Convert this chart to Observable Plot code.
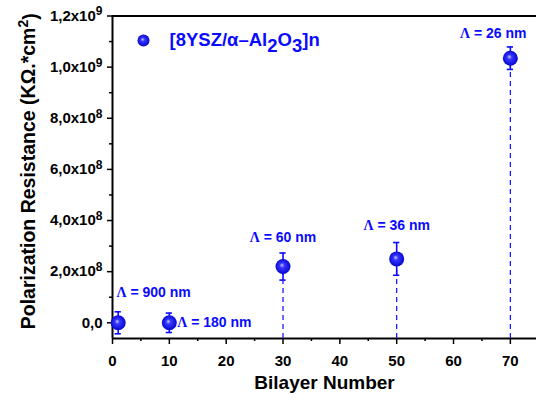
<!DOCTYPE html>
<html><head><meta charset="utf-8">
<script src="https://cdn.jsdelivr.net/npm/d3@7"></script>
<script src="https://cdn.jsdelivr.net/npm/@observablehq/plot@0.6"></script>
<style>body{margin:0;background:#fff} svg{display:block}</style>
</head><body><div id="chart"></div>
<script>
// ---- data ----
const bilayers = [1, 10, 30, 50, 70];
const resistance = [0, 0, 2.2e8, 2.5e8, 1.035e9];
const errors = [4.3e7, 3.8e7, 5.3e7, 6.4e7, 4.4e7];
const periods = ["Λ = 900 nm", "Λ = 180 nm", "Λ = 60 nm", "Λ = 36 nm", "Λ = 26 nm"];
const labelX = [0.7, 11.4, 30, 50, 67];
const labelY = [1.19e8, 0, 3.35e8, 3.81e8, 1.132e9];
const xTicks = [0, 10, 20, 30, 40, 50, 60, 70];
const xMinor = [5, 15, 25, 35, 45, 55, 65];
const yTicks = [0, 2e8, 4e8, 6e8, 8e8, 1e9, 1.2e9];
const yMinor = [1e8, 3e8, 5e8, 7e8, 9e8, 1.1e9];
const seriesName = "[8YSZ/α–Al_2O_3]n";
const xTitle = "Bilayer Number";
const yTitle = "Polarization Resistance (KΩ.*cm^2)";

const points = bilayers.map((x, i) => ({x, y: resistance[i], e: errors[i]}));
const labels = periods.map((t, i) => ({t, x: labelX[i], y: labelY[i], i}));
const yMin = -0.0614e9, yMax = 1.2e9, xMax = 74.6;
const blue = "#0a0aff";
const FONT = "'Liberation Sans', Arial, sans-serif";

function fmt(v) {
  if (v === 0) return "0,0";
  const e = Math.floor(Math.log10(v) + 1e-9);
  const m = (v / Math.pow(10, e)).toFixed(1).replace(".", ",");
  return m + "x10^" + e;
}

const plot = Plot.plot({
  width: 536, height: 400,
  marginLeft: 112, marginRight: 0, marginTop: 15.5, marginBottom: 62,
  style: {fontFamily: FONT, fontWeight: "bold", background: "white", color: "black"},
  x: {domain: [0, xMax]},
  y: {domain: [yMin, yMax]},
  marks: [
    Plot.axisX({ticks: xTicks, tickSize: 6, tickPadding: 11, fontSize: 15, strokeWidth: 1.5, label: null, tickFormat: d => String(d)}),
    Plot.axisX({ticks: xMinor, tickSize: 3, text: null, label: null, strokeWidth: 1.5}),
    Plot.axisY({ticks: yTicks, tickSize: 5, tickPadding: 5, fontSize: 15, strokeWidth: 1.5, label: null, tickFormat: fmt}),
    Plot.axisY({ticks: yMinor, tickSize: 3, text: null, label: null, strokeWidth: 1.5}),
    Plot.ruleX([0], {strokeWidth: 2}),
    Plot.ruleY([yMin], {strokeWidth: 2}),
    Plot.ruleY([yMax], {strokeWidth: 2}),
    Plot.ruleX(points.filter(d => d.x >= 30), {x: "x", y1: yMin, y2: "y", stroke: blue, strokeWidth: 1.2, strokeDasharray: "5,4"}),
    Plot.ruleX(points, {x: "x", y1: d => d.y - d.e, y2: d => d.y + d.e, stroke: blue, strokeWidth: 1.6}),
    Plot.ruleY(points, {y: d => d.y + d.e, x1: d => d.x - 0.55, x2: d => d.x + 0.55, stroke: blue, strokeWidth: 1.6}),
    Plot.ruleY(points, {y: d => d.y - d.e, x1: d => d.x - 0.55, x2: d => d.x + 0.55, stroke: blue, strokeWidth: 1.6}),
    Plot.dot(points, {x: "x", y: "y", r: 7.5, fill: blue}),
    Plot.text(labels.filter(d => d.i < 2), {x: "x", y: "y", text: "t", textAnchor: "start", fill: blue, fontSize: 14}),
    Plot.text(labels.filter(d => d.i >= 2), {x: "x", y: "y", text: "t", textAnchor: "middle", fill: blue, fontSize: 14}),
    // legend
    Plot.dot([0], {frameAnchor: "top-left", dx: 31, dy: 24.5, r: 6, fill: blue}),
    Plot.text([seriesName], {frameAnchor: "top-left", dx: 57, dy: 24.5, text: d => d, textAnchor: "start", lineAnchor: "middle", fill: blue, fontSize: 18.5}),
    // titles
    Plot.text([xTitle], {frameAnchor: "bottom", dy: 50, text: d => d, fontSize: 19, fill: "black"}),
    Plot.text([yTitle], {frameAnchor: "left", dx: -84, dy: -6, rotate: -90, textAnchor: "middle", text: d => d, fontSize: 19.5, fill: "black"})
  ]
});

document.getElementById("chart").appendChild(plot);
const svg = d3.select(plot);

// gradient for spheres
const defs = svg.insert("defs", ":first-child");
const gr = defs.append("radialGradient").attr("id", "sph")
  .attr("cx", "50%").attr("cy", "50%").attr("r", "55%").attr("fx", "42%").attr("fy", "40%");
gr.append("stop").attr("offset", "0%").attr("stop-color", "#c8c8ff");
gr.append("stop").attr("offset", "30%").attr("stop-color", "#3535ff");
gr.append("stop").attr("offset", "100%").attr("stop-color", "#0000c8");
svg.selectAll('g[aria-label="dot"]').attr("fill", "url(#sph)");
svg.selectAll('g[aria-label="dot"] circle').attr("fill", "url(#sph)");

function supify(node, supSize, dy) {
  const t = node.textContent;
  const m = t.match(/^(.*)\^(\d)(.*)$/);
  if (!m) return;
  const s = d3.select(node);
  s.text(null);
  s.append("tspan").text(m[1]);
  s.append("tspan").attr("dy", dy).attr("font-size", supSize).text(m[2]);
  if (m[3]) s.append("tspan").attr("dy", "0.45em").text(m[3]);
}

svg.selectAll("text").each(function () {
  const t = this.textContent;
  if (t.includes("_")) {
    // subscripts
    const parts = t.split(/_(\d)/);
    const s = d3.select(this);
    s.text(null);
    parts.forEach((p, i) => {
      if (i % 2 === 1) s.append("tspan").attr("dy", "0.3em").text(p);
      else if (p) s.append("tspan").attr("dy", i ? "-0.3em" : null).text(p);
    });
  } else if (t.includes("^")) {
    supify(this, t.length > 12 ? 14 : 12, t.length > 12 ? "-0.45em" : "-0.45em");
  } else if (t.startsWith("Λ")) {
    const s = d3.select(this);
    s.text(null);
    s.append("tspan").attr("font-family", "'Liberation Serif', serif").text(t[0]);
    s.append("tspan").text(t.slice(1));
  }
});
</script>
</body></html>
